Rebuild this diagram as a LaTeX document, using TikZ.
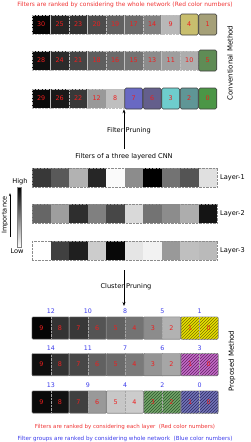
\documentclass[tikz,border=0pt]{standalone}
\usepackage{fontspec}
\setmainfont{DejaVu Sans}
\usetikzlibrary{patterns,arrows.meta}
\definecolor{numred}{RGB}{238,30,30}
\definecolor{numblue}{RGB}{60,60,235}
\definecolor{cA}{RGB}{200,190,110}
\definecolor{cB}{RGB}{165,160,120}
\definecolor{cC}{RGB}{95,140,85}
\definecolor{cD}{RGB}{105,105,195}
\definecolor{cE}{RGB}{100,95,140}
\definecolor{cF}{RGB}{110,205,205}
\definecolor{cG}{RGB}{95,150,150}
\definecolor{cH}{RGB}{75,150,70}
\definecolor{pY}{RGB}{232,226,0}
\definecolor{pYh}{RGB}{120,110,0}
\definecolor{pM}{RGB}{195,105,200}
\definecolor{pMh}{RGB}{100,40,100}
\definecolor{pG}{RGB}{115,165,105}
\definecolor{pGh}{RGB}{45,85,45}
\definecolor{pB}{RGB}{115,115,185}
\definecolor{pBh}{RGB}{45,45,95}
\newcommand\numfont{\fontsize{6.4}{7}\selectfont}
\tikzset{
  cellg/.style={minimum width=18.5pt, minimum height=19pt, inner sep=0pt, text=numred,
    draw=black!25, densely dotted, font=\numfont},
  spec/.style={minimum width=18pt, minimum height=21pt, inner sep=0pt, text=numred,
    draw=black!75, solid, line width=0.6pt, rounded corners=1.5pt, font=\numfont},
  lcell/.style={minimum width=18.5pt, minimum height=19pt, inner sep=0pt, draw=none},
  pcell/.style={minimum width=18.6pt, minimum height=22pt, inner sep=0pt, text=numred, draw=none, font=\numfont},
  grp/.style={draw=black!50, line width=0.6pt, rounded corners=1.2pt},
  bnum/.style={text=numblue, font=\fontsize{6.3}{7}\selectfont, inner sep=0pt},
  lbl/.style={font=\fontsize{6.6}{8}\selectfont, inner sep=0pt},
  arr/.style={-{Stealth[length=4pt,width=3pt]}, line width=0.6pt},
}
\begin{document}
\begin{tikzpicture}[x=1pt,y=-1pt]
\useasboundingbox (0,0) rectangle (250,442);
\node[text=numred!90, font=\fontsize{5.9}{7}\selectfont, inner sep=0pt] (title) at (125,5) {Filters are ranked by considering the whole network (Red color numbers)};
% conventional row 1
\foreach \w/\n [count=\i from 0] in {2/30,15/25,20/23,30/20,38/19,42/17,50/14,72/9}
  \node[cellg, fill=white!\w!black] (a\i) at ({41.25+18.5*\i},24.5) {\n};
\node[spec, fill=cA] (a8) at ({41.25+18.5*8},24.5) {4};
\node[spec, fill=cB] (a9) at ({41.25+18.5*9},24.5) {1};
% conventional row 2
\foreach \w/\n [count=\i from 0] in {6/28,17/24,27/21,37/18,42/16,45/15,55/13,62/11,68/10}
  \node[cellg, fill=white!\w!black] (b\i) at ({41.25+18.5*\i},60.5) {\n};
\node[spec, fill=cC] (b9) at ({41.25+18.5*9},60.5) {5};
% conventional row 3
\foreach \w/\n [count=\i from 0] in {4/29,10/26,22/22,60/12,75/8}
  \node[cellg, fill=white!\w!black] (c\i) at ({41.25+18.5*\i},98.5) {\n};
\foreach \c/\n [count=\i from 5] in {cD/7,cE/6,cF/3,cG/2,cH/0}
  \node[spec, fill=\c] (c\i) at ({41.25+18.5*\i},98.5) {\n};
\node[lbl, rotate=90, font=\fontsize{7}{8}\selectfont] (conv) at (230,63) {Conventional Method};
% filter pruning
\node[lbl] (cnn) at (124,157) {Filters of a three layered CNN};
\node[lbl] (fp) at (129,131) {Filter\hspace{2.2pt}Pruning};
\coordinate (fps) at (124,149);
\draw[arr] (fps) -- (fps |- c5.south);
% layers
\foreach \w [count=\i from 0] in {22,35,70,15,98,55,0,45,33,88}
  \node[lcell, fill=white!\w!black] (l1\i) at ({41.25+18.5*\i},177.5) {};
\foreach \w [count=\i from 0] in {40,62,18,50,28,85,45,55,68,8}
  \node[lcell, fill=white!\w!black] (l2\i) at ({41.25+18.5*\i},213.5) {};
\foreach \w [count=\i from 0] in {100,25,12,80,3,90,95,60,75,73}
  \node[lcell, fill=white!\w!black] (l3\i) at ({41.25+18.5*\i},250.5) {};
\foreach \r in {1,2,3}
  \draw[densely dotted, black!45] (l\r0.north west) rectangle (l\r9.south east);
\node[lbl, anchor=west] (L1) at (220,177.5) {Layer-1};
\node[lbl, anchor=west] (L2) at (220,213.5) {Layer-2};
\node[lbl, anchor=west] (L3) at (220,250.5) {Layer-3};
% importance bar
\shade[top color=black, bottom color=white] (17,187) rectangle (21,247);
\draw[black!50, line width=0.3pt] (17,187) rectangle (21,247);
\node[lbl] (hi) at (20,181.5) {High};
\node[lbl] (lo) at (17,251.5) {Low};
\node[lbl, rotate=90] (imp) at (5,215) {Importance};
\coordinate (ia) at (10,237);
\coordinate (ib) at (10,193);
\draw[-{Stealth[length=3pt,width=2pt]}, line width=0.5pt] (ia) -- (ib);
% cluster pruning
\node[lbl] (cp) at (126,287) {Cluster\hspace{2.2pt}Pruning};
\coordinate (cs) at (124,270);
\coordinate (ce) at (124,306);
\draw[arr] (cs) -- (ce);
% proposed rows
\foreach \r/\y in {p/328, q/364.5, s/402} {
  \foreach \k in {0,...,9}
    \node[pcell] (\r\k) at ({41.3+18.6*\k},\y) {};
}
\foreach \w/\n [count=\i from 0] in {2/9,20/8,22/7,33/6,38/5,45/4,55/3,70/2}
  \node[pcell, fill=white!\w!black] at (p\i) {\n};
\foreach \n [count=\i from 8] in {1,0}
  \node[pcell, fill=pY, postaction={pattern=north east lines, pattern color=pYh}] at (p\i) {\n};
\foreach \w/\n [count=\i from 0] in {6/9,20/8,28/7,38/6,42/5,48/4,58/3,65/2}
  \node[pcell, fill=white!\w!black] at (q\i) {\n};
\foreach \n [count=\i from 8] in {1,0}
  \node[pcell, fill=pM, postaction={pattern=north east lines, pattern color=pMh}] at (q\i) {\n};
\foreach \w/\n [count=\i from 0] in {4/9,7/8,25/7,60/6,78/5,80/4}
  \node[pcell, fill=white!\w!black] at (s\i) {\n};
\foreach \n [count=\i from 6] in {3,2}
  \node[pcell, fill=pG, postaction={pattern=north east lines, pattern color=pGh}] at (s\i) {\n};
\foreach \n [count=\i from 8] in {1,0}
  \node[pcell, fill=pB, postaction={pattern=north east lines, pattern color=pBh}] at (s\i) {\n};
\foreach \r in {p,q,s} {
  \foreach \g in {0,1,2,3,4} {
    \pgfmathtruncatemacro\ga{2*\g}
    \pgfmathtruncatemacro\gb{2*\g+1}
    \draw[densely dotted, black!35] (\r\ga.north east) -- (\r\ga.south east);
    \draw[grp] (\r\ga.north west) rectangle (\r\gb.south east);
  }
}
\foreach \n [count=\g from 0] in {12,10,8,5,1} {
  \pgfmathtruncatemacro\ga{2*\g}
  \node[bnum] at ([yshift=5.5pt]p\ga.north east) {\n};
}
\foreach \n [count=\g from 0] in {14,11,7,6,3} {
  \pgfmathtruncatemacro\ga{2*\g}
  \node[bnum] at ([yshift=5.5pt]q\ga.north east) {\n};
}
\foreach \n [count=\g from 0] in {13,9,4,2,0} {
  \pgfmathtruncatemacro\ga{2*\g}
  \node[bnum] at ([yshift=5.5pt]s\ga.north east) {\n};
}
\node[lbl, rotate=90, font=\fontsize{7}{8}\selectfont] (prop) at (232,361) {Proposed Method};
\node[text=numred!90, font=\fontsize{5.5}{7}\selectfont, inner sep=0pt] (b1) at (125,427) {Filters are ranked by considering each layer\ \ (Red color numbers)};
\node[text=numblue, font=\fontsize{5.6}{7}\selectfont, inner sep=0pt] (b2) at (125,439) {Filter groups are ranked by considering whole network\ \ (Blue color numbers)};
\end{tikzpicture}
\end{document}
